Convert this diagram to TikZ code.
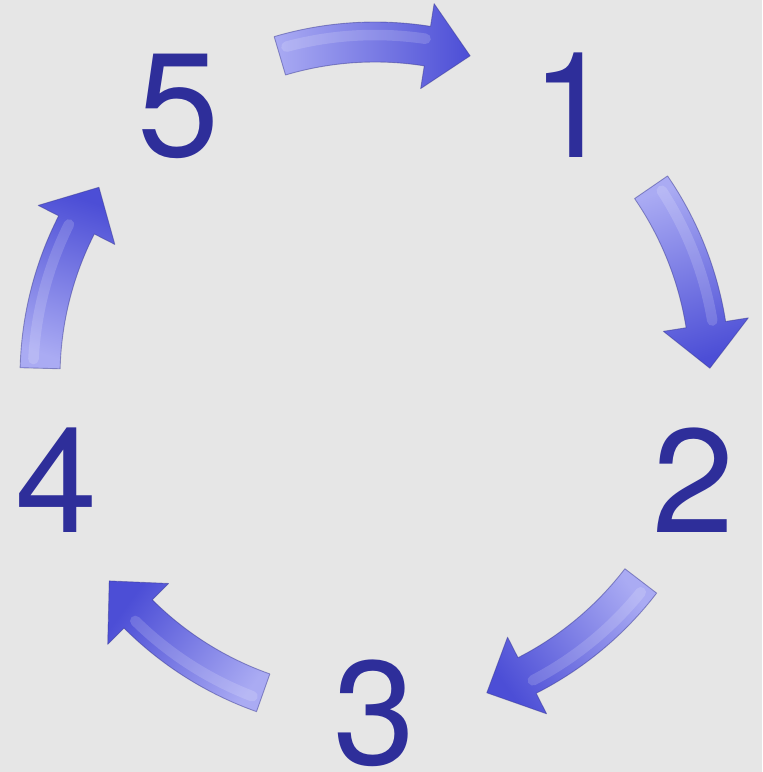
\documentclass[tikz,border=0pt]{standalone}
\usepackage{fontspec}
\setmainfont{TeX Gyre Heros}
\usetikzlibrary{arrows.meta}

\definecolor{bgGray}{RGB}{230,230,230}
\definecolor{numBlue}{RGB}{46,46,154}
\definecolor{arrTail}{RGB}{170,171,243}
\definecolor{arrHead}{RGB}{76,78,214}
\definecolor{arrEdge}{RGB}{60,60,150}

% curved block arrow on the ring, #1 = middle angle (runs clockwise)
\newcommand{\cyclearrow}[1]{%
	\pgfmathsetmacro{\ta}{#1+16.5}%
	\pgfmathsetmacro{\ba}{#1-9}%
	\pgfmathsetmacro{\ea}{#1-16.5}%
	\shade[top color=arrTail, bottom color=arrHead, shading angle=#1, draw=arrEdge, draw opacity=0.5, line width=0.5pt, line join=round]
		(\ta:355) arc[start angle=\ta, end angle=\ba, radius=355]
		-- (\ba:378) -- (\ea:335) -- (\ba:292)
		-- (\ba:315) arc[start angle=\ba, end angle=\ta, radius=315] -- cycle;
	\draw[white, opacity=0.16, line width=6pt, line cap=round] (\ta-1.5:342) arc[start angle=\ta-1.5, end angle=\ba+0.5, radius=342];
}

\begin{document}
\begin{tikzpicture}[x=0.02cm, y=0.02cm, every node/.style={font=\fontsize{84}{84}\selectfont, text=numBlue, inner sep=0pt}]
	\fill[bgGray] (-375,-395) rectangle (387,377);
	\useasboundingbox (-375,-395) rectangle (387,377);
	\node (n1) at (54:336) {1};
	\node (n2) at (-18:335) {2};
	\node (n3) at (-90:336) {3};
	\node (n4) at (198:335) {4};
	\node (n5) at (126:335) {5};
	\cyclearrow{90}
	\cyclearrow{18}
	\cyclearrow{-54}
	\cyclearrow{-126}
	\cyclearrow{162}
\end{tikzpicture}
\end{document}
